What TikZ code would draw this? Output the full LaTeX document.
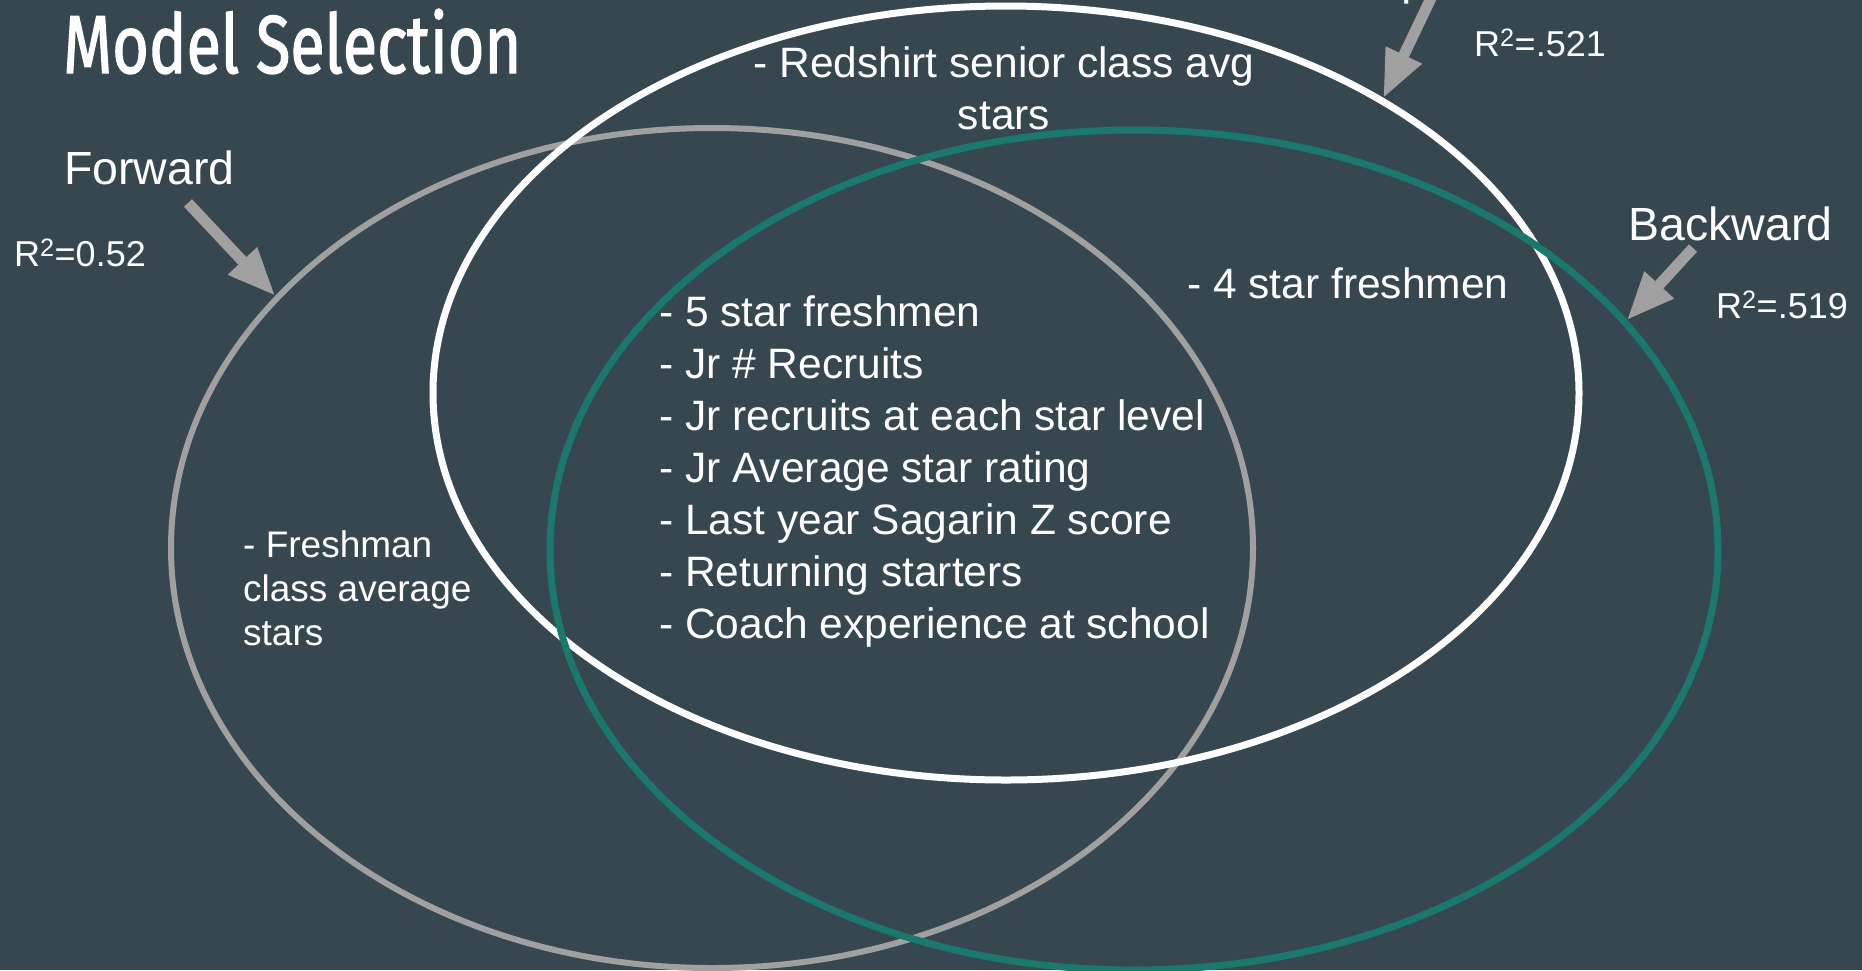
\documentclass[tikz,border=0pt]{standalone}
\usepackage{fontspec}
\usepackage{graphicx}
\setmainfont{Liberation Sans}
\newfontfamily\titlefont[FakeBold=1.8]{Fira Sans}
\usetikzlibrary{arrows.meta,shapes.geometric}
\definecolor{bg}{HTML}{37474F}
\definecolor{teal}{HTML}{1A786C}
\definecolor{ringgray}{HTML}{A0A0A0}
\begin{document}
\begin{tikzpicture}[x=1pt,y=-1pt,
  ring/.style={ellipse,inner sep=0pt,outer sep=3pt},
  txt/.style={text=white,inner sep=0pt,anchor=base west},
  big/.style={font=\fontsize{46.5pt}{56pt}\selectfont},
  mid/.style={font=\fontsize{42.5pt}{51pt}\selectfont},
  small/.style={font=\fontsize{37pt}{44pt}\selectfont},
  rsq/.style={font=\fontsize{36pt}{43pt}\selectfont},
  pointer/.style={draw=ringgray,line width=11pt,-{Triangle[length=48pt,width=37pt]}}
]
\fill[bg] (0,0) rectangle (1862,970);
\useasboundingbox (0,0) rectangle (1862,970);

% rings
\node[ring,draw=ringgray,line width=6pt,minimum width=1082pt,minimum height=840pt] (fwd) at (712,548) {};
\node[ring,draw=white,line width=7pt,minimum width=1146pt,minimum height=774pt] (step) at (1006,393) {};
\node[ring,draw=teal,line width=7pt,minimum width=1168pt,minimum height=840pt] (bwd) at (1134,550) {};

% title
\node[txt] (title) at (63,73) {\resizebox{458pt}{64pt}{\titlefont Model Selection}};

% labels
\node[txt,big] (fwdlab) at (64,184) {Forward};
\node[txt,rsq] (fwdr) at (14,266) {R\textsuperscript{2}=0.52};
\node[txt,big,anchor=base] (steplab) at (1426,-6) {Stepwise};
\node[txt,rsq] (stepr) at (1474,56) {R\textsuperscript{2}=.521};
\node[txt,big] (bwdlab) at (1628,240) {Backward};
\node[txt,rsq] (bwdr) at (1716,318) {R\textsuperscript{2}=.519};

% arrows
\coordinate (fwdtail) at (188,203);
\coordinate (steptail) at (1432,-4);
\coordinate (bwdtail) at (1693,248);
\draw[pointer] (fwdtail) -- (fwd.150.5);
\draw[pointer] (steptail) -- (step.38.5);
\draw[pointer] (bwdtail) -- (bwd.25.25);

% set contents
\node[txt,mid,anchor=base] (rs1) at (1004,77) {- Redshirt senior class avg};
\node[txt,mid,anchor=base] (rs2) at (1004,129) {stars};
\node[txt,mid] (four) at (1187,298) {- 4 star freshmen};

\node[txt,small] (fr1) at (243,557) {- Freshman};
\node[txt,small] (fr2) at (243,601) {class average};
\node[txt,small] (fr3) at (243,645) {stars};

\node[txt,mid] (c1) at (659,326) {- 5 star freshmen};
\node[txt,mid] (c2) at (659,378) {- Jr \# Recruits};
\node[txt,mid] (c3) at (659,430) {- Jr recruits at each star level};
\node[txt,mid] (c4) at (659,482) {- Jr Average star rating};
\node[txt,mid] (c5) at (659,534) {- Last year Sagarin Z score};
\node[txt,mid] (c6) at (659,586) {- Returning starters};
\node[txt,mid] (c7) at (659,638) {- Coach experience at school};
\end{tikzpicture}
\end{document}
